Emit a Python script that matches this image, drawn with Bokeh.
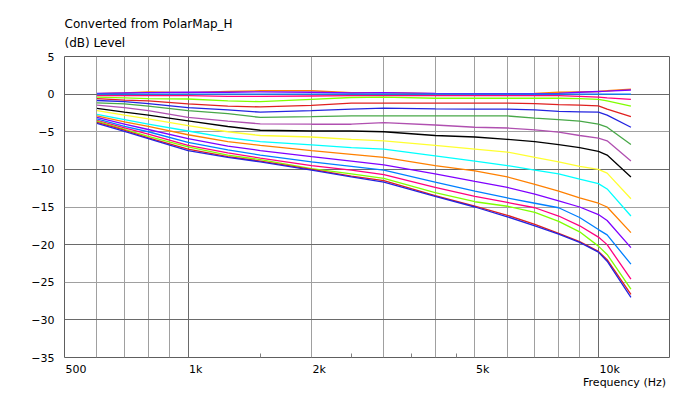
import math
from bokeh.plotting import figure
from bokeh.models import FixedTicker, Grid, Title
from bokeh.embed import file_html
from bokeh.resources import INLINE

# ---------------- data ----------------
freqs = [600, 700, 800, 1000, 1250, 1500, 2000, 2500, 3000, 4000, 5000,
         6000, 7000, 8000, 9000, 10000, 10500, 12000]

orange1 = [0.05, 0.15, 0.3, 0.2, 0.35, 0.45, 0.45, 0.2, 0.2, 0.05, 0.05, 0.05, 0.1, 0.25, 0.3, 0.35, 0.45, 0.65]
purple1 = [0.1, 0.15, 0.2, 0.25, 0.25, 0.3, 0.25, 0.15, 0.2, 0.1, 0.05, 0.05, 0.05, 0.1, 0.25, 0.35, 0.4, 0.55]
lightblue1 = [0.0, 0.0, 0.0, 0.0, 0.0, 0.0, 0.0, 0.0, 0.0, 0.0, 0.0, 0.0, 0.0, 0.0, 0.0, 0.0, 0.0, 0.0]
pink1 = [-0.2, -0.2, -0.2, -0.2, -0.3, -0.3, -0.25, -0.2, -0.2, -0.2, -0.2, -0.2, -0.2, -0.2, -0.3, -0.4, -0.5, -0.7]
lime1 = [-0.4, -0.5, -0.6, -0.65, -0.9, -1.0, -0.7, -0.45, -0.4, -0.55, -0.55, -0.55, -0.55, -0.55, -0.6, -0.7, -0.9, -1.6]
red1 = [-0.6, -0.8, -0.9, -1.3, -1.6, -1.7, -1.5, -1.2, -1.2, -1.2, -1.2, -1.2, -1.25, -1.4, -1.45, -1.55, -2.0, -3.0]
blue1 = [-0.85, -1.0, -1.25, -1.8, -2.1, -2.4, -2.2, -2.0, -1.85, -1.95, -2.0, -2.0, -2.1, -2.3, -2.35, -2.4, -2.8, -4.4]
green = [-1.15, -1.3, -1.6, -2.2, -2.6, -3.1, -3.0, -2.9, -2.9, -2.9, -2.9, -2.9, -3.2, -3.4, -3.6, -4.0, -4.4, -6.7]
violet = [-1.45, -1.8, -2.2, -3.1, -3.6, -3.95, -4.0, -4.0, -3.8, -4.1, -4.4, -4.5, -4.75, -5.05, -5.5, -5.85, -6.2, -8.9]
black = [-1.9, -2.4, -2.8, -3.55, -4.3, -4.8, -4.9, -4.9, -5.0, -5.5, -5.7, -6.0, -6.3, -6.7, -7.1, -7.6, -8.1, -11.0]
yellow = [-2.2, -2.8, -3.3, -4.2, -5.0, -5.5, -5.7, -6.0, -6.2, -6.8, -7.3, -7.7, -8.4, -9.0, -9.6, -10.0, -10.5, -13.9]
cyan = [-2.7, -3.4, -4.0, -4.9, -5.8, -6.3, -6.75, -7.1, -7.3, -8.2, -8.9, -9.5, -10.1, -10.6, -11.3, -11.9, -12.6, -16.2]
orange2 = [-2.9, -3.7, -4.3, -5.4, -6.3, -6.8, -7.5, -8.0, -8.4, -9.5, -10.2, -11.0, -12.0, -12.9, -13.8, -14.5, -15.0, -18.4]
purple2 = [-3.1, -4.0, -4.7, -5.9, -6.9, -7.5, -8.3, -8.9, -9.4, -10.6, -11.6, -12.4, -13.3, -14.2, -15.0, -16.0, -16.8, -20.4]
lightblue2 = [-3.3, -4.3, -5.0, -6.4, -7.4, -8.1, -9.0, -9.6, -10.1, -11.7, -12.9, -13.8, -14.5, -15.1, -16.4, -18.0, -18.7, -22.6]
pink2 = [-3.5, -4.5, -5.3, -6.8, -7.8, -8.5, -9.5, -10.1, -10.7, -12.4, -13.6, -14.4, -15.1, -16.2, -17.5, -19.0, -20.0, -24.6]
lime2 = [-3.6, -4.7, -5.6, -7.0, -8.1, -8.7, -9.9, -10.6, -11.2, -13.1, -14.3, -14.9, -15.7, -16.9, -18.3, -20.2, -21.3, -25.9]
red2 = [-3.75, -4.8, -5.8, -7.3, -8.3, -8.9, -10.0, -10.9, -11.5, -13.5, -14.9, -16.1, -17.3, -18.5, -19.6, -20.9, -22.0, -26.6]
blue2 = [-3.9, -4.95, -5.9, -7.5, -8.4, -9.0, -10.1, -11.0, -11.7, -13.6, -15.0, -16.3, -17.5, -18.6, -19.7, -21.0, -22.2, -27.0]

series = [orange1, purple1, lightblue1, pink1, lime1, red1, blue1, green, violet,
          black, yellow, cyan, orange2, purple2, lightblue2, pink2, lime2, red2, blue2]
colors = ["#ff8000", "#8000ff", "#0080ff", "#ff0080", "#80ff00", "#e02020", "#2424e0",
          "#48a848", "#b050b0", "#000000", "#ffff30", "#00ffff", "#ff8000", "#8000ff",
          "#0080ff", "#ff0080", "#80ff00", "#e02020", "#2424e0"]

x_major = [500, 1000, 2000, 5000, 10000]
x_major_labels = ["500", "1k", "2k", "5k", "10k"]
x_minor_ticks = [1500, 2500, 3500, 4500]
x_grid_dark = [1000, 10000]
x_grid_light = [600, 700, 800, 900, 2000, 3000, 4000, 5000, 6000, 7000, 8000, 9000]
y_ticks = [5, 0, -5, -10, -15, -20, -25, -30, -35]
y_grid_dark = [0, -10, -20, -30]
y_grid_light = [-5, -15, -25]

title_text = "Converted from PolarMap_H"
y_label_text = "(dB)  Level"
x_label_text = "Frequency  (Hz)"

FONT = "DejaVu Sans"
X_MIN, X_MAX = 500, 14900
FRAME_W = 692 - 64 - 23

p = figure(width=692, height=393, x_axis_type="log", x_range=(X_MIN, X_MAX),
           y_range=(-35, 5), output_backend="svg", toolbar_location=None,
           min_border_left=64, min_border_right=23, min_border_top=56,
           min_border_bottom=36, title=None)
p.background_fill_color = "white"
p.border_fill_color = "white"
p.outline_line_color = "#5e5e5e"
p.outline_line_width = 1

# grids
p.xgrid.visible = False
p.ygrid.visible = False
p.add_layout(Grid(dimension=0, ticker=FixedTicker(ticks=x_grid_light),
                  grid_line_color="#a0a0a0", grid_line_width=1))
p.add_layout(Grid(dimension=0, ticker=FixedTicker(ticks=x_grid_dark),
                  grid_line_color="#6a6a6a", grid_line_width=1))
p.add_layout(Grid(dimension=1, ticker=FixedTicker(ticks=y_grid_light),
                  grid_line_color="#a0a0a0", grid_line_width=1))
p.add_layout(Grid(dimension=1, ticker=FixedTicker(ticks=y_grid_dark),
                  grid_line_color="#6a6a6a", grid_line_width=1))

# x labels are drawn left-aligned at their frequency: Bokeh centres axis
# labels, so place each label's anchor half a label-width to the right.
px_per_decade = FRAME_W / math.log10(X_MAX / X_MIN)
char_w = {"k": 6.4}
def label_w(s):
    return sum(char_w.get(ch, 7.0) for ch in s)
label_pos = [f * 10 ** ((label_w(s) / 2 + 1) / px_per_decade)
             for f, s in zip(x_major, x_major_labels)]

xa = p.xaxis[0]
xa.ticker = FixedTicker(ticks=label_pos, minor_ticks=x_minor_ticks)
xa.major_label_overrides = {pos: s for pos, s in zip(label_pos, x_major_labels)}
xa.major_label_text_font = FONT
xa.major_label_text_font_size = "11px"
xa.major_label_text_color = "black"
xa.major_label_standoff = 5
xa.major_tick_in = 0
xa.major_tick_out = 0
xa.minor_tick_in = 4
xa.minor_tick_out = 0
xa.minor_tick_line_color = "#808080"
xa.axis_line_color = None

ya = p.yaxis[0]
ya.ticker = FixedTicker(ticks=y_ticks)
ya.major_label_text_font = FONT
ya.major_label_text_font_size = "11px"
ya.major_label_text_color = "black"
ya.major_label_standoff = 10
ya.major_tick_in = 0
ya.major_tick_out = 0
ya.minor_tick_in = 0
ya.minor_tick_out = 0
ya.axis_line_color = None

# curves
for vals, c in zip(series, colors):
    p.line(freqs, vals, line_color=c, line_width=1.3)

# texts: two header lines in one title block
p.add_layout(Title(text=title_text + "\n" + y_label_text, align="left",
                   text_font=FONT, text_font_size="12px",
                   text_font_style="normal", text_line_height=1.38,
                   text_color="black", standoff=13), "above")
p.add_layout(Title(text=x_label_text, align="right", text_font=FONT,
                   text_font_size="11px", text_font_style="normal",
                   text_color="black", standoff=-9), "below")

open("out.html", "w").write(file_html(p, INLINE))
